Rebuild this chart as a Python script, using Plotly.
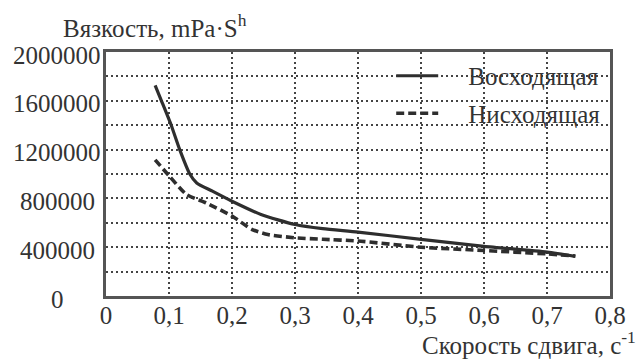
import plotly.graph_objects as go

# Data
x_up = [0.078, 0.088, 0.1035, 0.117, 0.133, 0.144, 0.169, 0.2, 0.246, 0.3, 0.344, 0.4, 0.5, 0.6, 0.7, 0.745]
y_up = [1727000, 1600000, 1400000, 1200000, 1000000, 927000, 859000, 777000, 668000, 586000, 552000, 524000, 464000, 407000, 360000, 325000]

x_dn = [0.078, 0.1, 0.128, 0.159, 0.2, 0.232, 0.257, 0.3, 0.344, 0.4, 0.5, 0.6, 0.7, 0.745]
y_dn = [1116000, 986000, 831000, 763000, 655000, 545000, 504000, 477000, 465000, 451000, 400000, 373000, 345000, 328000]

name_up = "Восходящая"
name_dn = "Нисходящая"

x_tick_vals = [0, 0.1, 0.2, 0.3, 0.4, 0.5, 0.6, 0.7, 0.8]
x_tick_text = ["0", "0,1", "0,2", "0,3", "0,4", "0,5", "0,6", "0,7", "0,8"]
y_grid_vals = [0, 200000, 400000, 600000, 800000, 1000000, 1200000, 1400000, 1600000, 1800000, 2000000]
y_label_vals = [0, 400000, 800000, 1200000, 1600000, 2000000]
y_label_text = ["0", "400000", "800000", "1200000", "1600000", "2000000"]

y_title = "Вязкость, mPa·S<sup>h</sup>"
x_title = "Скорость сдвига, с<sup>-1</sup>"

FONT = "Liberation Serif"
TXT = "#333333"
LINE = "#2e2e2e"
PAD = "\u00a0" * 4  # gap between legend sample and its label

fig = go.Figure()
fig.add_trace(go.Scatter(x=x_up, y=y_up, mode="lines", name=PAD + name_up,
                         line=dict(color=LINE, width=3.2, shape="spline", smoothing=0.6),
                         legendgroup="a"))
fig.add_trace(go.Scatter(x=x_dn, y=y_dn, mode="lines", name=PAD + name_dn,
                         line=dict(color=LINE, width=3.6, dash="8px,4px", shape="spline", smoothing=0.6),
                         legendgroup="b"))

L, R, T, B = 106, 16, 52, 64
W, H = 638, 360
pw = W - L - R

annotations = []
for v, t in zip(y_label_vals, y_label_text):
    annotations.append(dict(x=(56 - L) / pw, xref="paper", y=v, yref="y", text=t,
                            showarrow=False, xanchor="center", yanchor="middle", yshift=-3,
                            font=dict(family=FONT, size=25, color=TXT)))
annotations.append(dict(x=(60 - L) / pw, xref="paper", y=1, yref="paper", yshift=26,
                        text=y_title, showarrow=False, xanchor="left", yanchor="middle",
                        font=dict(family=FONT, size=25, color=TXT)))
annotations.append(dict(x=1, xref="paper", xshift=R + 12, y=0, yref="paper", yshift=-47,
                        text=x_title, showarrow=False, xanchor="right", yanchor="middle",
                        font=dict(family=FONT, size=25, color=TXT)))

fig.update_layout(
    width=W, height=H,
    margin=dict(l=L, r=R, t=T, b=B),
    paper_bgcolor="white", plot_bgcolor="white",
    font=dict(family=FONT, size=25, color=TXT),
    showlegend=True,
    legend=dict(x=(398 - L) / pw, y=0.996, xanchor="left", yanchor="top",
                bgcolor="rgba(0,0,0,0)", borderwidth=0, tracegroupgap=2,
                font=dict(family=FONT, size=25, color=TXT), itemwidth=42),
    annotations=annotations,
)
fig.update_xaxes(range=[0, 0.8], tickvals=x_tick_vals, ticktext=x_tick_text,
                 showgrid=True, gridcolor="#444444", gridwidth=1.5, griddash="2px,3px",
                 showline=True, mirror=True, linecolor="#555555", linewidth=2.5,
                 ticks="", zeroline=False, ticklabelstandoff=-5,
                 tickfont=dict(family=FONT, size=25, color=TXT))
fig.update_yaxes(range=[0, 2000000], tickvals=y_grid_vals, showticklabels=False,
                 showgrid=True, gridcolor="#444444", gridwidth=1.5, griddash="2px,3px",
                 showline=True, mirror=True, linecolor="#555555", linewidth=2.5,
                 ticks="", zeroline=False)

fig.add_shape(type="rect", xref="paper", yref="paper",
              x0=(366 - L) / pw, x1=(621 - L) / pw, y0=(296 - 123) / 244, y1=1,
              fillcolor="white", line=dict(width=0), layer="between")

fig.write_html("out.html")
